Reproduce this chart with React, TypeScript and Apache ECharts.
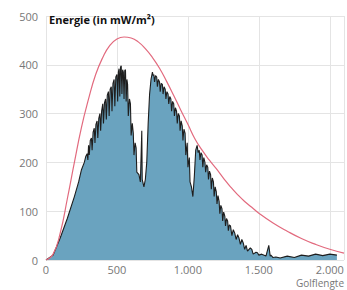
import React, { useEffect, useRef } from "react";
import * as echarts from "echarts";

const xTicks = [0, 500, 1000, 1500, 2000];
const yTicks = [0, 100, 200, 300, 400, 500];

// Blackbody-like reference curve (pink)
const refX = [0, 50, 100, 150, 200, 250, 300, 350, 400, 450, 500, 550, 600, 650, 700, 750, 800, 850, 900, 950, 1000, 1050, 1100, 1150, 1200, 1250, 1300, 1350, 1400, 1450, 1500, 1600, 1700, 1800, 1900, 2000, 2100];
const refY = [0, 12, 55, 125, 200, 272, 330, 380, 415, 440, 453, 457, 455, 447, 433, 415, 393, 366, 337, 307, 278, 248, 225, 205, 187, 168, 150, 134, 120, 108, 96, 76, 59, 44, 32, 22, 14];

// Measured spectrum (blue area with dark outline)
const specX = [0, 50, 100, 150, 200, 230, 250, 270, 280, 290, 295, 300, 305, 312, 320, 325, 332, 340, 345, 352, 360, 365, 372, 380, 385, 392, 400, 405, 412, 420, 425, 432, 440, 445, 452, 460, 465, 472, 480, 485, 492, 500, 505, 510, 515, 520, 525, 530, 535, 540, 545, 550, 555, 560, 565, 570, 575, 580, 588, 595, 600, 608, 615, 620, 628, 635, 640, 655, 665, 675, 678, 690, 700, 710, 720, 730, 740, 750, 755, 760, 765, 772, 780, 785, 792, 800, 805, 812, 820, 825, 832, 840, 845, 852, 860, 865, 872, 880, 885, 892, 900, 905, 912, 920, 925, 932, 940, 945, 952, 960, 965, 972, 980, 985, 995, 1000, 1010, 1015, 1025, 1035, 1045, 1055, 1065, 1072, 1080, 1085, 1092, 1100, 1105, 1112, 1120, 1125, 1132, 1140, 1145, 1152, 1160, 1165, 1172, 1180, 1185, 1192, 1200, 1205, 1212, 1220, 1225, 1232, 1240, 1245, 1252, 1260, 1265, 1272, 1280, 1285, 1292, 1300, 1310, 1320, 1330, 1340, 1350, 1360, 1370, 1380, 1390, 1400, 1410, 1420, 1440, 1450, 1460, 1480, 1490, 1500, 1520, 1550, 1570, 1580, 1585, 1600, 1620, 1650, 1700, 1750, 1800, 1850, 1900, 1950, 2000, 2050, 2100];
const specY = [0, 10, 45, 85, 130, 160, 185, 200, 212, 218, 205, 235, 215, 245, 250, 225, 262, 270, 240, 278, 285, 250, 290, 300, 265, 305, 320, 280, 322, 330, 288, 338, 345, 295, 350, 355, 305, 362, 370, 315, 375, 380, 325, 385, 392, 335, 395, 398, 340, 390, 385, 330, 388, 390, 325, 370, 360, 295, 330, 320, 255, 280, 260, 215, 240, 230, 180, 175, 160, 265, 165, 150, 165, 200, 280, 340, 370, 385, 378, 380, 365, 378, 375, 355, 370, 365, 345, 362, 360, 340, 355, 350, 330, 345, 340, 320, 335, 330, 305, 325, 320, 295, 312, 305, 280, 300, 295, 265, 285, 275, 245, 268, 260, 215, 240, 190, 210, 160, 150, 130, 170, 225, 235, 220, 225, 205, 220, 215, 190, 210, 200, 180, 195, 190, 165, 182, 175, 145, 168, 160, 130, 150, 140, 115, 132, 120, 95, 112, 105, 80, 98, 90, 70, 85, 80, 60, 72, 70, 50, 62, 55, 42, 52, 45, 32, 42, 35, 22, 30, 18, 25, 22, 12, 16, 15, 10, 12, 8, 30, 8, 10, 5, 6, 4, 8, 5, 10, 8, 12, 9, 12, 10];

const xAxisName = "Golflengte";

const fmt = (v: number) => {
  if (v >= 1000) {
    const s = String(v);
    return s.slice(0, s.length - 3) + "." + s.slice(s.length - 3);
  }
  return String(v);
};

export default function App() {
  const ref = useRef<HTMLDivElement>(null);
  useEffect(() => {
    document.body.style.margin = "0";
    const chart = echarts.init(ref.current!, null, { renderer: "svg" });
    const font = "'Open Sans', 'Noto Sans', sans-serif";
    chart.setOption({
      animation: false,
      grid: { left: 46, right: 3, top: 16, bottom: 30, outerBoundsMode: "none" },
      title: {
        text: "Energie (in mW/m²)",
        left: 44,
        top: 9,
        textStyle: { fontSize: 11, fontWeight: "bold", color: "#111", fontFamily: font },
      },
      graphic: [
        {
          type: "text",
          right: 3,
          top: 278,
          style: { text: xAxisName, fill: "#777", fontSize: 10, fontFamily: font },
        },
      ],
      xAxis: {
        type: "value",
        min: 0,
        max: 2100,
        interval: 500,
        axisLine: { show: false },
        axisTick: { show: false },
        axisLabel: { color: "#777", fontSize: 11, fontFamily: font, margin: 3, lineHeight: 13, formatter: (v: number) => (xTicks.includes(v) ? fmt(v) : "") },
        splitLine: { show: true, lineStyle: { color: "#e4e4e4", width: 1 } },
      },
      yAxis: {
        type: "value",
        min: 0,
        max: 500,
        interval: 100,
        axisLine: { show: false },
        axisTick: { show: false },
        axisLabel: { color: "#777", fontSize: 11, fontFamily: font, margin: 8, formatter: (v: number) => (yTicks.includes(v) ? String(v) : "") },
        splitLine: { show: true, lineStyle: { color: "#e4e4e4", width: 1 } },
      },
      series: [
        {
          type: "line",
          data: specX.map((x, i) => [x, specY[i]]),
          showSymbol: false,
          symbol: "none",
          lineStyle: { color: "#1e1e1e", width: 1.1 },
          areaStyle: { color: "#6aa3bf", opacity: 1 },
          z: 2,
        },
        {
          type: "line",
          data: refX.map((x, i) => [x, refY[i]]),
          smooth: true,
          showSymbol: false,
          symbol: "none",
          lineStyle: { color: "#e26a7e", width: 1.2 },
          z: 3,
        },
      ],
    });
    return () => chart.dispose();
  }, []);
  return <div ref={ref} style={{ width: 347, height: 290 }} />;
}
